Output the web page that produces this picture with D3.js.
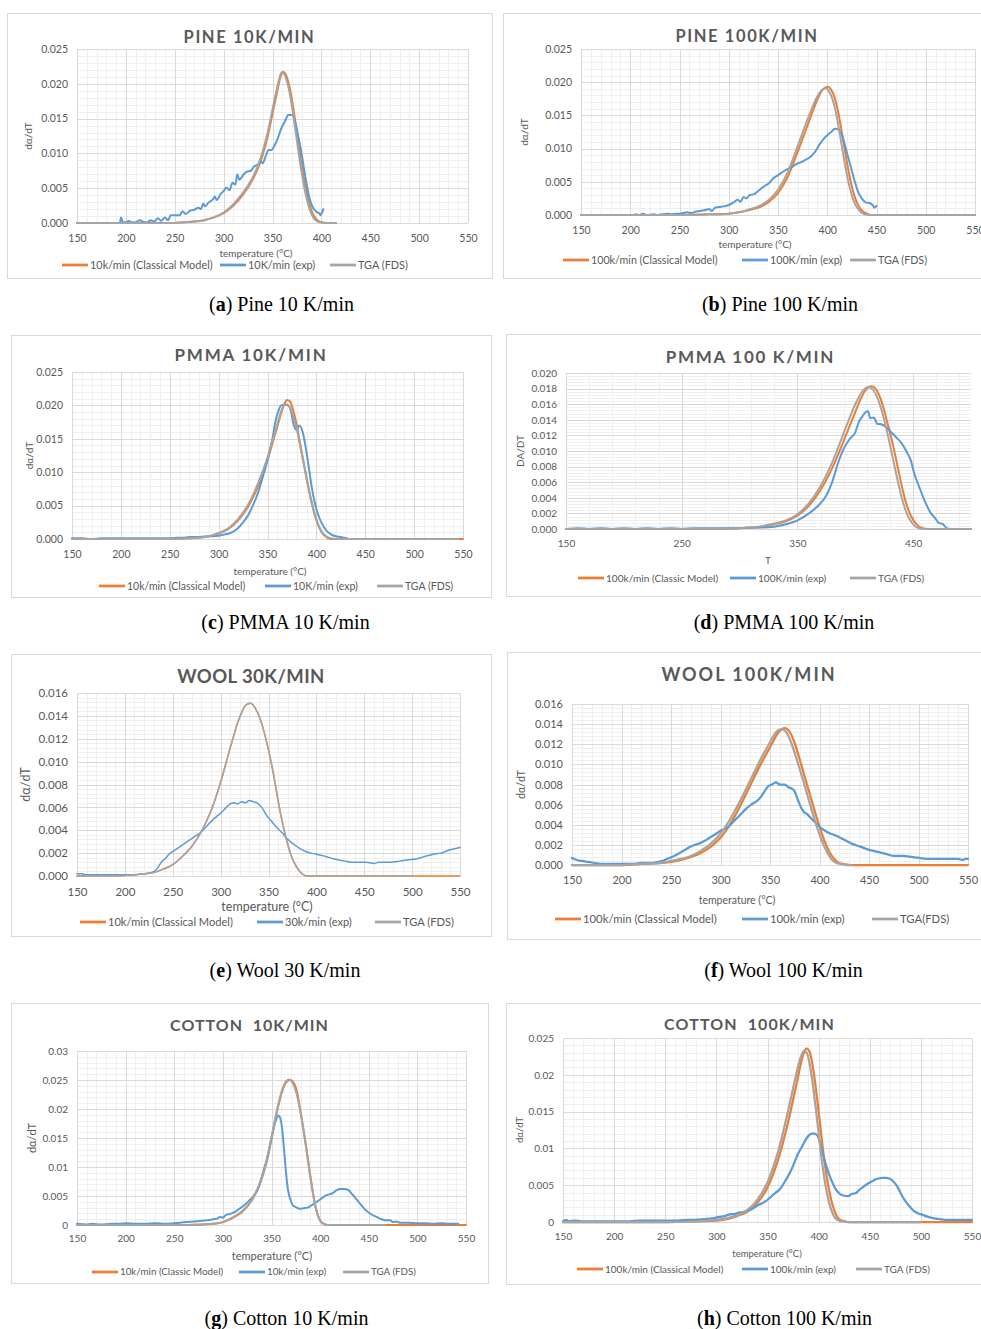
<!DOCTYPE html>
<html><head><meta charset="utf-8">
<script src="https://cdn.jsdelivr.net/npm/d3@7"></script>
<style>body{margin:0;background:#fff}svg{display:block}</style>
</head><body>
<svg id="c" width="981" height="1329"></svg>
<script>
// ---------------- DATA ----------------
const xTicks550 = [150,200,250,300,350,400,450,500,550];
const xTicksPmma100 = [150,250,350,450];
const yTicks025 = [0,0.005,0.010,0.015,0.020,0.025];
const yTicks020 = [0,0.002,0.004,0.006,0.008,0.010,0.012,0.014,0.016,0.018,0.020];
const yTicks016 = [0,0.002,0.004,0.006,0.008,0.010,0.012,0.014,0.016];
const yTicks030 = [0,0.005,0.01,0.015,0.02,0.025,0.03];

// (a) Pine 10 K/min
const pine10Model = [[150,0],[250,0],[260,0.0001],[270,0.0002],[280,0.0004],[290,0.0008],[300,0.0014],[310,0.0025],[320,0.0041],[330,0.0063],[335,0.0078],[340,0.0098],[345,0.0124],[350,0.0157],[355,0.0190],[358,0.0209],[361,0.0217],[364,0.0212],[367,0.0198],[370,0.0176],[375,0.0130],[380,0.0082],[385,0.0043],[390,0.0017],[395,0.0005],[400,0.0001],[405,0],[415,0]];
const pine10Exp = [[194,0.0001],[195,0.0008],[197,0.0001],[200,0.0001],[203,0.0003],[206,0.0001],[210,0.0001],[214,0.0004],[217,0.0002],[222,0.0001],[225,0.0004],[229,0.0002],[233,0.0007],[236,0.0003],[240,0.0008],[243,0.0004],[246,0.0011],[250,0.0011],[255,0.0011],[258,0.0017],[261,0.0013],[266,0.0018],[270,0.0019],[274,0.0022],[277,0.0020],[279,0.0028],[281,0.0024],[285,0.0030],[289,0.0034],[291,0.0038],[293,0.0033],[297,0.0042],[300,0.0046],[303,0.0051],[306,0.0047],[309,0.0058],[312,0.0055],[314,0.0070],[316,0.0062],[320,0.0069],[324,0.0074],[328,0.0075],[331,0.0081],[335,0.0084],[338,0.0089],[340,0.0086],[343,0.0096],[346,0.0105],[349,0.0105],[352,0.0111],[355,0.0120],[359,0.0136],[363,0.0147],[366,0.0155],[370,0.0155],[373,0.0146],[376,0.0127],[379,0.0106],[382,0.0080],[385,0.0055],[388,0.0035],[391,0.0023],[395,0.0016],[398,0.0014],[399,0.0011],[401,0.0016],[402,0.0020]];
const pine10Tga = [[150,0],[250,0],[260,0.0001],[270,0.0002],[280,0.0004],[290,0.0008],[300,0.0015],[310,0.0027],[320,0.0044],[330,0.0066],[335,0.0082],[340,0.0103],[345,0.0130],[350,0.0163],[355,0.0196],[358,0.0213],[360,0.0217],[363,0.0211],[366,0.0197],[369,0.0176],[374,0.0128],[379,0.0080],[384,0.0041],[389,0.0016],[394,0.0004],[399,0.0001],[404,0],[415,0]];

// (b) Pine 100 K/min
const pine100Model = [[150,0],[250,0],[280,0.0001],[300,0.0002],[310,0.0004],[320,0.0007],[330,0.0011],[340,0.0019],[350,0.0033],[360,0.0058],[370,0.0095],[380,0.0135],[390,0.0174],[395,0.0188],[400,0.0193],[405,0.0186],[410,0.0163],[415,0.0123],[420,0.0079],[425,0.0043],[430,0.0019],[435,0.0007],[440,0.0002],[445,0],[550,0]];
const pine100Exp = [[205,0.0001],[209,0],[213,0.0002],[217,0],[224,0.0001],[228,0],[233,0.0001],[238,0.0002],[242,0.0001],[246,0.0002],[250,0.0002],[254,0.0003],[258,0.0004],[262,0.0003],[266,0.0005],[270,0.0006],[275,0.0007],[280,0.0009],[283,0.0006],[286,0.0011],[290,0.0012],[295,0.0013],[300,0.0015],[305,0.0019],[309,0.0023],[312,0.0020],[315,0.0027],[318,0.0025],[321,0.0030],[325,0.0031],[329,0.0035],[333,0.0040],[337,0.0044],[341,0.0048],[345,0.0055],[349,0.0059],[353,0.0063],[357,0.0067],[361,0.0070],[365,0.0073],[369,0.0077],[374,0.0080],[379,0.0084],[384,0.0089],[388,0.0096],[392,0.0106],[396,0.0114],[400,0.0120],[404,0.0125],[408,0.0130],[412,0.0128],[415,0.0120],[418,0.0105],[421,0.0088],[424,0.0072],[428,0.0050],[431,0.0036],[435,0.0025],[439,0.0019],[443,0.0018],[446,0.0015],[448,0.0011],[450,0.0014]];
const pine100Tga = [[150,0],[250,0],[280,0.0001],[300,0.0002],[310,0.0004],[320,0.0008],[330,0.0013],[340,0.0022],[350,0.0038],[360,0.0065],[370,0.0104],[380,0.0144],[390,0.0179],[395,0.0189],[398,0.0191],[403,0.0183],[408,0.0160],[413,0.0120],[418,0.0076],[423,0.0040],[428,0.0017],[433,0.0006],[438,0.0001],[443,0],[550,0]];

// (c) PMMA 10 K/min
const pmma10Model = [[150,0],[250,0],[270,0.0001],[280,0.0002],[290,0.0004],[300,0.0008],[310,0.0015],[320,0.0028],[330,0.0048],[340,0.0078],[350,0.0118],[355,0.0143],[360,0.0168],[365,0.0193],[370,0.0208],[373,0.0206],[377,0.0189],[380,0.0170],[385,0.0130],[390,0.0090],[395,0.0055],[400,0.0028],[405,0.0011],[410,0.0003],[415,0],[550,0]];
const pmma10Exp = [[150,0.0001],[160,0.0001],[170,0],[180,0.0001],[190,0.0001],[200,0.0001],[210,0.0001],[220,0.0001],[230,0.0001],[240,0.0001],[250,0.0001],[258,0.0002],[265,0.0002],[272,0.0003],[280,0.0003],[290,0.0004],[300,0.0005],[307,0.0007],[312,0.0009],[317,0.0013],[321,0.0018],[325,0.0025],[330,0.0035],[335,0.0050],[340,0.0068],[345,0.0092],[350,0.0118],[355,0.0150],[358,0.0175],[361,0.0191],[364,0.0200],[368,0.0201],[371,0.0200],[374,0.0191],[376,0.0176],[378,0.0166],[380,0.0163],[382,0.0170],[384,0.0168],[386,0.0160],[389,0.0138],[392,0.0110],[395,0.0080],[398,0.0057],[401,0.0040],[405,0.0025],[410,0.0013],[415,0.0007],[420,0.0004],[425,0.0003],[428,0.0002],[431,0.0001]];
const pmma10Tga = [[150,0],[250,0],[270,0.0001],[280,0.0002],[290,0.0004],[300,0.0009],[310,0.0016],[320,0.0030],[330,0.0051],[340,0.0082],[350,0.0122],[355,0.0147],[360,0.0172],[365,0.0195],[368,0.0202],[372,0.0199],[376,0.0185],[380,0.0164],[385,0.0128],[390,0.0092],[395,0.0057],[400,0.0030],[405,0.0012],[410,0.0004],[415,0.0001],[420,0],[545,0]];

// (d) PMMA 100 K/min
const pmma100Model = [[150,0],[280,0],[300,0.0001],[320,0.0003],[330,0.0006],[340,0.0010],[350,0.0017],[360,0.0030],[370,0.0050],[380,0.0078],[390,0.0113],[400,0.0150],[405,0.0168],[410,0.0180],[414,0.0183],[418,0.0179],[423,0.0162],[428,0.0135],[433,0.0105],[438,0.0070],[443,0.0038],[448,0.0017],[453,0.0006],[458,0.0001],[463,0],[500,0]];
const pmma100Exp = [[150,0],[160,0.0001],[170,0],[180,0.0001],[190,0],[200,0.0001],[210,0],[220,0.0001],[230,0],[240,0.0001],[250,0],[260,0.0001],[270,0.0001],[280,0.0001],[290,0.0001],[300,0.0001],[310,0.0002],[320,0.0002],[330,0.0003],[340,0.0006],[350,0.0011],[360,0.0020],[365,0.0026],[370,0.0033],[375,0.0043],[380,0.0060],[385,0.0084],[390,0.0103],[395,0.0115],[400,0.0124],[403,0.0137],[406,0.0144],[409,0.0150],[411,0.0151],[413,0.0142],[416,0.0143],[419,0.0135],[423,0.0134],[427,0.0130],[431,0.0124],[435,0.0118],[440,0.0110],[444,0.0100],[448,0.0088],[451,0.0071],[455,0.0055],[460,0.0036],[465,0.0021],[469,0.0014],[472,0.0008],[476,0.0006],[479,0.0001],[482,0],[490,0],[500,0]];
const pmma100Tga = [[150,0],[280,0],[300,0.0001],[320,0.0004],[330,0.0007],[340,0.0011],[350,0.0019],[360,0.0033],[370,0.0055],[380,0.0085],[390,0.0123],[400,0.0160],[405,0.0174],[411,0.0182],[415,0.0179],[420,0.0165],[425,0.0140],[430,0.0108],[435,0.0073],[440,0.0041],[445,0.0018],[450,0.0006],[455,0.0001],[460,0],[500,0]];

// (e) Wool 30 K/min
const wool30Model = [[150,0],[180,0],[200,0.00005],[210,0.0001],[220,0.0002],[230,0.0003],[240,0.0006],[250,0.0010],[260,0.0017],[270,0.0026],[280,0.0039],[290,0.0057],[300,0.0082],[310,0.0112],[320,0.0139],[326,0.0149],[331,0.0151],[336,0.0147],[341,0.0138],[346,0.0124],[350,0.0110],[355,0.0090],[360,0.0066],[365,0.0045],[370,0.0028],[375,0.0015],[380,0.0007],[385,0.0002],[390,0],[550,0]];
const wool30Exp = [[150,0.0002],[155,0.0002],[160,0.0001],[170,0.0001],[180,0.0001],[190,0.0001],[200,0.0001],[210,0.0001],[220,0.0002],[228,0.0003],[232,0.0005],[235,0.0008],[238,0.0012],[242,0.0015],[246,0.0019],[251,0.0022],[258,0.0026],[265,0.0030],[272,0.0034],[279,0.0038],[286,0.0044],[293,0.0050],[300,0.0055],[306,0.0060],[310,0.0063],[314,0.0064],[318,0.0063],[322,0.0065],[326,0.0064],[330,0.0066],[334,0.0065],[338,0.0064],[343,0.0060],[348,0.0053],[353,0.0048],[358,0.0043],[364,0.0038],[369,0.0033],[376,0.0028],[383,0.0024],[390,0.0021],[400,0.0019],[410,0.0017],[418,0.0015],[430,0.0013],[440,0.0012],[452,0.0012],[460,0.0011],[465,0.0012],[477,0.0012],[487,0.0013],[495,0.0014],[505,0.0015],[513,0.0017],[522,0.0019],[530,0.0020],[540,0.0023],[550,0.0025]];
const wool30Tga = [[150,0],[180,0],[200,0.00005],[210,0.0001],[220,0.0002],[230,0.0003],[240,0.0006],[250,0.0010],[260,0.0017],[270,0.0026],[280,0.0039],[290,0.0057],[300,0.0082],[310,0.0112],[320,0.0139],[326,0.0149],[331,0.0151],[336,0.0147],[341,0.0138],[346,0.0124],[350,0.0110],[355,0.0090],[360,0.0066],[365,0.0045],[370,0.0028],[375,0.0015],[380,0.0007],[385,0.0002],[390,0],[500,0]];

// (f) Wool 100 K/min
const wool100Model = [[150,0],[200,0],[220,0.0001],[240,0.0002],[250,0.0003],[260,0.0005],[270,0.0008],[280,0.0012],[290,0.0018],[300,0.0027],[310,0.0041],[320,0.0059],[330,0.0079],[340,0.0099],[350,0.0117],[358,0.0131],[365,0.0136],[370,0.0132],[375,0.0121],[380,0.0105],[385,0.0088],[390,0.0071],[395,0.0054],[400,0.0038],[405,0.0024],[410,0.0013],[415,0.0006],[420,0.0002],[425,0.0001],[432,0],[550,0]];
const wool100Exp = [[150,0.0007],[155,0.0005],[160,0.0004],[167,0.0003],[173,0.0002],[180,0.0001],[190,0.0001],[200,0.0001],[210,0.0001],[220,0.0002],[230,0.0002],[236,0.0003],[241,0.0004],[246,0.0006],[251,0.0008],[257,0.0011],[264,0.0015],[269,0.0018],[274,0.0020],[280,0.0022],[284,0.0024],[289,0.0027],[294,0.0030],[300,0.0034],[308,0.0038],[314,0.0044],[321,0.0051],[326,0.0056],[331,0.0060],[336,0.0063],[341,0.0068],[345,0.0074],[348,0.0078],[352,0.0080],[356,0.0082],[360,0.0080],[365,0.0080],[369,0.0077],[372,0.0076],[375,0.0073],[378,0.0065],[381,0.0058],[384,0.0053],[387,0.0051],[390,0.0048],[395,0.0043],[399,0.0039],[404,0.0035],[409,0.0032],[417,0.0029],[425,0.0025],[433,0.0021],[442,0.0018],[450,0.0015],[459,0.0013],[467,0.0011],[476,0.0009],[485,0.0009],[493,0.0008],[501,0.0007],[510,0.0006],[520,0.0006],[530,0.0006],[540,0.0006],[545,0.0005],[547,0.0006],[550,0.0006]];
const wool100Tga = [[150,0],[200,0],[220,0.0001],[240,0.0002],[250,0.0004],[260,0.0006],[270,0.0009],[280,0.0014],[290,0.0021],[300,0.0031],[310,0.0046],[320,0.0064],[330,0.0084],[340,0.0104],[350,0.0122],[357,0.0133],[362,0.0135],[367,0.0131],[372,0.0120],[377,0.0105],[382,0.0089],[387,0.0072],[392,0.0055],[397,0.0039],[402,0.0025],[407,0.0014],[412,0.0006],[417,0.0002],[422,0.0001],[427,0],[432,0]];

// (g) Cotton 10 K/min
const cotton10Model = [[150,0],[250,0],[270,0.00005],[280,0.0001],[290,0.0002],[300,0.0005],[310,0.0012],[320,0.0023],[330,0.0043],[340,0.0080],[345,0.0108],[350,0.0148],[355,0.0190],[360,0.0225],[365,0.0246],[369,0.0250],[372,0.0247],[376,0.0231],[380,0.0194],[385,0.0142],[390,0.0084],[395,0.0034],[400,0.0008],[405,0.0001],[410,0],[550,0]];
const cotton10Exp = [[150,0.0002],[160,0.0001],[165,0.0002],[175,0.0001],[185,0.0002],[195,0.0002],[200,0.0003],[210,0.0002],[220,0.0002],[230,0.0003],[242,0.0002],[250,0.0003],[262,0.0005],[270,0.0006],[276,0.0007],[283,0.0008],[290,0.0010],[294,0.0011],[297,0.0014],[300,0.0013],[303,0.0017],[307,0.0019],[312,0.0022],[317,0.0028],[322,0.0034],[327,0.0042],[331,0.0049],[335,0.0058],[338,0.0071],[341,0.0089],[345,0.0112],[348,0.0134],[351,0.0158],[354,0.0178],[357,0.0189],[359,0.0184],[361,0.0165],[363,0.0128],[365,0.0089],[367,0.0060],[369,0.0046],[372,0.0034],[375,0.0031],[379,0.0028],[383,0.0029],[387,0.0030],[393,0.0036],[400,0.0044],[406,0.0051],[413,0.0055],[417,0.0060],[421,0.0062],[425,0.0062],[429,0.0060],[433,0.0053],[437,0.0045],[441,0.0037],[446,0.0027],[452,0.0019],[458,0.0014],[463,0.0010],[468,0.0008],[472,0.0008],[475,0.0005],[478,0.0006],[482,0.0004],[490,0.0004],[500,0.0003],[508,0.0003],[516,0.0002],[525,0.0003],[532,0.0002],[542,0.0002]];
const cotton10Tga = [[150,0],[250,0],[270,0.00005],[280,0.0001],[290,0.0002],[300,0.0005],[310,0.0013],[320,0.0024],[330,0.0044],[340,0.0082],[345,0.0111],[350,0.0151],[355,0.0193],[360,0.0228],[365,0.0248],[368,0.0251],[371,0.0247],[375,0.0231],[380,0.0193],[385,0.0140],[390,0.0082],[395,0.0033],[400,0.0007],[405,0.0001],[410,0],[467,0]];

// (h) Cotton 100 K/min
const cotton100Model = [[150,0],[250,0],[280,0.0001],[300,0.0002],[310,0.0004],[320,0.0008],[330,0.0014],[340,0.0026],[350,0.0047],[360,0.0083],[370,0.0135],[378,0.0185],[384,0.0223],[388,0.0236],[391,0.0232],[395,0.0205],[400,0.0150],[405,0.0090],[410,0.0045],[415,0.0017],[420,0.0004],[425,0.0001],[430,0],[550,0]];
const cotton100Exp = [[150,0.0001],[153,0.0003],[156,0.0001],[162,0.0002],[168,0.0001],[180,0.0001],[190,0.0001],[200,0.0001],[215,0.0001],[225,0.0002],[240,0.0002],[252,0.0002],[262,0.0002],[272,0.0003],[279,0.0003],[288,0.0004],[296,0.0005],[303,0.0007],[308,0.0008],[312,0.0010],[318,0.0011],[323,0.0013],[328,0.0014],[334,0.0017],[341,0.0023],[348,0.0028],[354,0.0035],[358,0.0040],[361,0.0043],[364,0.0048],[367,0.0055],[370,0.0062],[374,0.0073],[377,0.0083],[380,0.0093],[384,0.0103],[387,0.0111],[390,0.0117],[393,0.0120],[396,0.0120],[399,0.0117],[402,0.0105],[405,0.0088],[408,0.0074],[411,0.0062],[414,0.0052],[417,0.0044],[420,0.0039],[424,0.0036],[429,0.0035],[432,0.0038],[436,0.0039],[440,0.0044],[444,0.0048],[448,0.0052],[452,0.0055],[456,0.0058],[462,0.0060],[466,0.0060],[469,0.0059],[473,0.0055],[477,0.0048],[481,0.0037],[485,0.0028],[489,0.0021],[493,0.0015],[497,0.0012],[501,0.0010],[507,0.0007],[513,0.0005],[518,0.0004],[524,0.0003],[530,0.0003],[540,0.0003],[550,0.0003]];
const cotton100Tga = [[150,0],[250,0],[280,0.0001],[300,0.0003],[310,0.0005],[320,0.0009],[330,0.0016],[340,0.0030],[350,0.0054],[360,0.0094],[370,0.0150],[378,0.0200],[382,0.0222],[386,0.0233],[389,0.0228],[393,0.0200],[398,0.0145],[403,0.0085],[408,0.0040],[413,0.0014],[418,0.0003],[423,0.0001],[428,0],[500,0]];

// ---------------- DRAWING ----------------
const ORANGE = '#ED7D31', BLUE = '#5B9BD5', GREY = '#A5A5A5';
const TXT = '#595959';
const FONT = 'Lato, "Open Sans", sans-serif';
const svg = d3.select('#c');

const fmt3 = d3.format('.3f');
const fmtShort = d => d === 0 ? '0' : String(+d.toFixed(3));

const panels = [
 {frame:[7,13,492,278], plot:[77,49,468,223], xd:[150,550], xt:xTicks550, xm:10, yd:[0,0.025], yt:yTicks025, ym:0.001, yf:fmt3,
  title:'PINE 10K/MIN', tx:249.5, ty:37, ts:16.5, tls:1.6, xl:'temperature (°C)', xlx:256, xly:253, yl:'dα/dT', ylx:28, fs:10.5, tickDy:15, afs:10,
  ly:265, lx:[62,220,330], lf:10.9, lw:2,
  labels:['10k/min (Classical Model)','10K/min (exp)','TGA (FDS)'], data:[pine10Model,pine10Exp,pine10Tga],
  cap:['a',' Pine 10 K/min'], cx:281.5, cy:304},
 {frame:[503,13,991,278], plot:[581,49,975,215], xd:[150,550], xt:xTicks550, xm:10, yd:[0,0.025], yt:yTicks025, ym:0.001, yf:fmt3,
  title:'PINE 100K/MIN', tx:747, ty:36, ts:16.5, tls:1.6, xl:'temperature (°C)', xlx:755, xly:244, yl:'dα/dT', ylx:524, fs:10.5, tickDy:15, afs:10,
  ly:260, lx:[563,742,850], lf:10.7, lw:2,
  labels:['100k/min (Classical Model)','100K/min (exp)','TGA (FDS)'], data:[pine100Model,pine100Exp,pine100Tga],
  cap:['b',' Pine 100 K/min'], cx:780, cy:304},
 {frame:[11,335,491,597], plot:[72,372,463,539], xd:[150,550], xt:xTicks550, xm:10, yd:[0,0.025], yt:yTicks025, ym:0.001, yf:fmt3,
  title:'PMMA 10K/MIN', tx:251, ty:355, ts:17, tls:1.8, xl:'temperature (°C)', xlx:270, xly:571, yl:'dα/dT', ylx:29, fs:10.5, tickDy:15, afs:10,
  ly:586, lx:[99,265,377], lf:10.5, lw:2,
  labels:['10k/min (Classical Model)','10K/min (exp)','TGA (FDS)'], data:[pmma10Model,pmma10Exp,pmma10Tga],
  cap:['c',' PMMA 10 K/min'], cx:285.5, cy:622},
 {frame:[506,334,995,596], plot:[566,373,971,529], xd:[150,500], xt:xTicksPmma100, xm:20, yd:[0,0.020], yt:yTicks020, ym:0.0004, yf:fmt3,
  title:'PMMA 100 K/MIN', tx:750.5, ty:357, ts:17, tls:1.7, xl:'T', xlx:768, xly:560, yl:'DA/DT', ylx:520, fs:10, tickDy:14, afs:10,
  ly:578, lx:[578,730,850], lf:10.1, lw:2,
  labels:['100k/min (Classic Model)','100K/min (exp)','TGA (FDS)'], data:[pmma100Model,pmma100Exp,pmma100Tga],
  cap:['d',' PMMA 100 K/min'], cx:784, cy:622},
 {frame:[11,654,491,936], plot:[77,693,460,876], xd:[150,550], xt:xTicks550, xm:10, yd:[0,0.016], yt:yTicks016, ym:0.0004, yf:fmt3,
  title:'WOOL 30K/MIN', tx:251, ty:677, ts:18.5, tls:0.4, xl:'temperature (°C)', xlx:267, xly:907, yl:'dα/dT', ylx:26, fs:11.5, tickDy:15.5, afs:12.5,
  ly:922, lx:[80,257,375], lf:11.1, lw:1.5,
  labels:['10k/min (Classical Model)','30k/min (exp)','TGA (FDS)'], data:[wool30Model,wool30Exp,wool30Tga],
  cap:['e',' Wool 30 K/min'], cx:285, cy:970},
 {frame:[507,652,991,939], plot:[572,704,968,865], xd:[150,550], xt:xTicks550, xm:10, yd:[0,0.016], yt:yTicks016, ym:0.0004, yf:fmt3,
  title:'WOOL 100K/MIN', tx:749, ty:675, ts:18, tls:2, xl:'temperature (°C)', xlx:737, xly:900, yl:'dα/dT', ylx:521, fs:11, tickDy:15.5, afs:10.5,
  ly:919, lx:[555,742,872], lf:11.3, lw:2.25,
  labels:['100k/min (Classical Model)','100k/min (exp)','TGA(FDS)'], data:[wool100Model,wool100Exp,wool100Tga],
  cap:['f',' Wool 100 K/min'], cx:783.5, cy:970},
 {frame:[11,1003,488,1283], plot:[77,1051,466,1225], xd:[150,550], xt:xTicks550, xm:10, yd:[0,0.03], yt:yTicks030, ym:0.001, yf:fmtShort,
  title:'COTTON  10K/MIN', tx:249.5, ty:1025, ts:16, tls:1.0, xl:'temperature (°C)', xlx:272, xly:1256, yl:'dα/dT', ylx:32, fs:10, tickDy:13.5, afs:11,
  ly:1272, lx:[92,239,343], lf:9.8, lw:2,
  labels:['10k/min (Classic Model)','10k/min (exp)','TGA (FDS)'], data:[cotton10Model,cotton10Exp,cotton10Tga],
  cap:['g',' Cotton 10 K/min'], cx:286.5, cy:1318},
 {frame:[506,1003,993,1284], plot:[563,1038,972,1222], xd:[150,550], xt:xTicks550, xm:10, yd:[0,0.025], yt:yTicks025, ym:0.001, yf:fmtShort,
  title:'COTTON  100K/MIN', tx:749.5, ty:1024, ts:16, tls:1.1, xl:'temperature (°C)', xlx:767, xly:1254, yl:'dα/dT', ylx:520, fs:10, tickDy:14, afs:9.5,
  ly:1269, lx:[577,742,856], lf:10, lw:2.25,
  labels:['100k/min (Classical Model)','100k/min (exp)','TGA (FDS)'], data:[cotton100Model,cotton100Exp,cotton100Tga],
  cap:['h',' Cotton 100 K/min'], cx:784.5, cy:1318}
];

function drawPanel(c){
  const g = svg.append('g');
  g.append('rect')
    .attr('x', c.frame[0]+0.5).attr('y', c.frame[1]+0.5)
    .attr('width', c.frame[2]-c.frame[0]).attr('height', c.frame[3]-c.frame[1])
    .attr('fill','#fff').attr('stroke','#d9d9d9').attr('stroke-width',1);
  const [x0,y0,x1,y1] = c.plot;
  const x = d3.scaleLinear().domain(c.xd).range([x0,x1]);
  const y = d3.scaleLinear().domain(c.yd).range([y1,y0]);
  const h = y1-y0, w = x1-x0;

  // minor gridlines
  const nx = Math.round((c.xd[1]-c.xd[0])/c.xm);
  const xMinor = d3.range(nx+1).map(i => c.xd[0]+i*c.xm);
  const ny = Math.round((c.yd[1]-c.yd[0])/c.ym);
  const yMinor = d3.range(ny+1).map(i => c.yd[0]+i*c.ym);
  const gridX = (vals, color) => {
    const a = g.append('g').attr('transform',`translate(0,${y1})`)
      .call(d3.axisBottom(x).tickValues(vals).tickSize(-h).tickFormat(''));
    a.select('.domain').remove();
    a.selectAll('line').attr('stroke',color).attr('stroke-width',1).attr('shape-rendering','crispEdges');
  };
  const gridY = (vals, color) => {
    const a = g.append('g').attr('transform',`translate(${x0},0)`)
      .call(d3.axisLeft(y).tickValues(vals).tickSize(-w).tickFormat(''));
    a.select('.domain').remove();
    a.selectAll('line').attr('stroke',color).attr('stroke-width',1).attr('shape-rendering','crispEdges');
  };
  gridX(xMinor, '#efefef');
  gridY(yMinor, '#efefef');
  // major gridlines
  const nxM = Math.round((c.xd[1]-c.xd[0])/(c.xm*5));
  const xMajor = d3.range(nxM+1).map(i => c.xd[0]+i*c.xm*5);
  gridX(xMajor, '#d9d9d9');
  gridY(c.yt, '#d9d9d9');

  // tick labels via axes
  const ax = g.append('g').attr('transform',`translate(0,${y1})`)
    .call(d3.axisBottom(x).tickValues(c.xt).tickSize(0).tickPadding(0).tickFormat(d3.format('d')));
  ax.select('.domain').remove();
  ax.selectAll('text').attr('y', c.tickDy).attr('dy','0.35em')
    .attr('fill',TXT).style('font-family',FONT).style('font-size',c.fs+'px');
  const ay = g.append('g').attr('transform',`translate(${x0},0)`)
    .call(d3.axisLeft(y).tickValues(c.yt).tickSize(0).tickPadding(9).tickFormat(c.yf));
  ay.select('.domain').remove();
  ay.selectAll('text').attr('fill',TXT).style('font-family',FONT).style('font-size',c.fs+'px');

  // series
  const line = d3.line().x(d => x(d[0])).y(d => y(d[1])).curve(d3.curveMonotoneX);
  const colors = [ORANGE, BLUE, GREY];
  c.data.forEach((ds,i) => {
    g.append('path').datum(ds).attr('d', line)
      .attr('fill','none').attr('stroke',colors[i]).attr('stroke-width',c.lw)
      .attr('stroke-linejoin','round').attr('stroke-linecap','round');
  });

  // title
  g.append('text').attr('x',c.tx).attr('y',c.ty).attr('dy','0.35em')
    .attr('text-anchor','middle').attr('fill',TXT)
    .style('font-family',FONT).style('font-weight','bold').style('font-size',c.ts+'px')
    .style('letter-spacing',c.tls+'px').style('white-space','pre')
    .text(c.title);
  // axis titles
  g.append('text').attr('x',c.xlx).attr('y',c.xly).attr('dy','0.35em')
    .attr('text-anchor','middle').attr('fill',TXT)
    .style('font-family',FONT).style('font-size',c.afs+'px').text(c.xl);
  g.append('text').attr('transform',`translate(${c.ylx},${(y0+y1)/2}) rotate(-90)`).attr('dy','0.35em')
    .attr('text-anchor','middle').attr('fill',TXT)
    .style('font-family',FONT).style('font-size',c.afs+'px').text(c.yl);

  // legend
  c.labels.forEach((lab,i) => {
    const lx = c.lx[i];
    g.append('line').attr('x1',lx).attr('x2',lx+26).attr('y1',c.ly).attr('y2',c.ly)
      .attr('stroke',colors[i]).attr('stroke-width',2.75);
    g.append('text').attr('x',lx+28).attr('y',c.ly).attr('dy','0.35em')
      .attr('fill',TXT).style('font-family',FONT).style('font-size',c.lf+'px').text(lab);
  });

  // caption
  const cap = svg.append('text').attr('x',c.cx).attr('y',c.cy).attr('dy','0.35em')
    .attr('text-anchor','middle').attr('fill','#000')
    .style('font-family','"Liberation Serif", "DejaVu Serif", serif').style('font-size','20px');
  cap.append('tspan').text('(');
  cap.append('tspan').style('font-weight','bold').text(c.cap[0]);
  cap.append('tspan').text(')' + c.cap[1]);
}

panels.forEach(drawPanel);
</script>
</body></html>
